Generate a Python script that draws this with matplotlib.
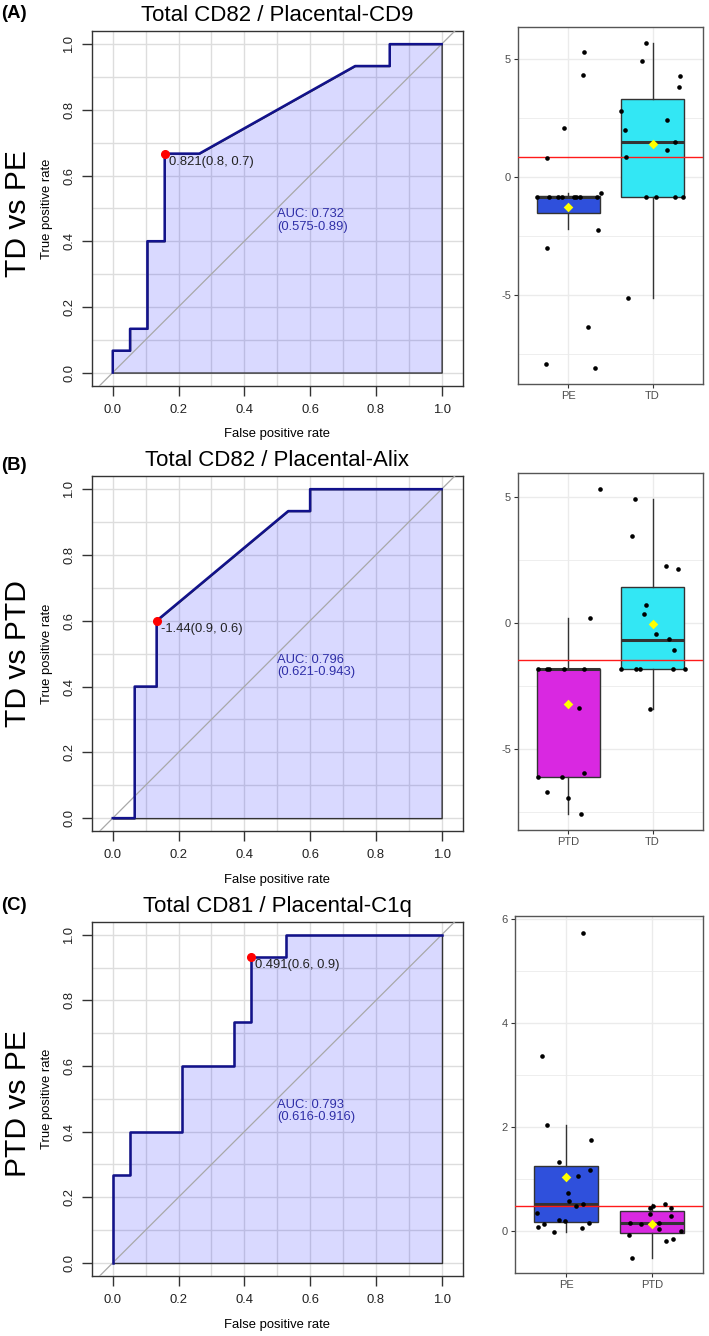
import matplotlib.pyplot as plt
import numpy as np

plt.rcParams['font.family'] = ['Liberation Sans', 'DejaVu Sans']

# ---- ROC data: (false positive rate, true positive rate) ----
roc_a_fpr = [0, 0, 1/19, 1/19, 2/19, 2/19, 3/19, 3/19, 5/19, 14/19, 16/19, 16/19, 1]
roc_a_tpr = [0, 1/15, 1/15, 2/15, 2/15, 6/15, 6/15, 10/15, 10/15, 14/15, 14/15, 1, 1]
roc_b_fpr = [0, 1/15, 1/15, 2/15, 2/15, 8/15, 9/15, 9/15, 1]
roc_b_tpr = [0, 0, 6/15, 6/15, 9/15, 14/15, 14/15, 1, 1]
roc_c_fpr = [0, 0, 1/19, 1/19, 4/19, 4/19, 7/19, 7/19, 8/19, 8/19, 10/19, 10/19, 1]
roc_c_tpr = [0, 4/15, 4/15, 6/15, 6/15, 9/15, 9/15, 11/15, 11/15, 14/15, 14/15, 1, 1]

best_points = [(3/19, 10/15), (2/15, 9/15), (8/19, 14/15)]
best_labels = ['0.821(0.8, 0.7)', '-1.44(0.9, 0.6)', '0.491(0.6, 0.9)']
auc_labels = ['AUC: 0.732\n(0.575-0.89)', 'AUC: 0.796\n(0.621-0.943)', 'AUC: 0.793\n(0.616-0.916)']
roc_titles = ['Total CD82 / Placental-CD9', 'Total CD82 / Placental-Alix', 'Total CD81 / Placental-C1q']
row_labels = ['TD vs PE', 'TD vs PTD', 'PTD vs PE']
panel_tags = ['(A)', '(B)', '(C)']

# ---- box plot data ----
groups_a = ['PE', 'TD']
groups_b = ['PTD', 'TD']
groups_c = ['PE', 'PTD']

a_pe_vals = [-7.92, -8.08, -6.37, -3.02, -2.25, -0.68, -0.83, -0.83, -0.83, -0.83,
             -0.83, -0.83, -0.83, -0.83, 0.79, 2.1, 4.31, 5.3]
a_pe_jit = [-0.27, 0.31, 0.23, -0.26, 0.35, 0.39, -0.37, -0.23, -0.12, -0.08,
            0.06, 0.09, 0.14, 0.34, -0.25, -0.05, 0.17, 0.18]
a_td_vals = [5.68, 4.91, 4.27, 3.83, 2.8, 2.4, 1.99, 1.5, 1.13, 0.86,
             -0.83, -0.83, -0.83, -0.83, -5.13]
a_td_jit = [-0.08, -0.13, 0.33, 0.31, -0.37, 0.17, -0.33, 0.27, 0.17, -0.31,
            -0.08, 0.04, 0.27, 0.36, -0.29]

b_ptd_vals = [-1.84, -1.84, -1.84, -1.84, -1.84, 0.19, 5.35, -3.38, -6.13, -6.1,
              -5.97, -6.69, -6.95, -7.6]
b_ptd_jit = [-0.36, -0.25, -0.23, -0.05, 0.18, 0.26, 0.38, 0.12, -0.36, -0.08,
             0.18, -0.25, 0.0, 0.15]
b_td_vals = [4.93, 3.47, 2.29, 2.15, 0.72, 0.35, -0.42, -0.64, -1.05,
             -1.84, -1.84, -1.84, -1.84, -1.84, -3.43]
b_td_jit = [-0.21, -0.24, 0.16, 0.30, -0.08, -0.10, 0.04, 0.20, 0.25,
            -0.37, -0.20, -0.15, 0.24, 0.39, -0.03]

c_pe_vals = [5.74, 3.37, 2.04, 1.76, 1.33, 1.17, 1.06, 0.73, 0.58, 0.53,
             0.49, 0.34, 0.21, 0.20, 0.16, 0.14, 0.08, 0.07, -0.02]
c_pe_jit = [0.19, -0.28, -0.22, 0.29, -0.09, 0.28, 0.14, 0.02, 0.03, 0.20,
            0.11, -0.34, -0.08, -0.02, 0.27, -0.26, -0.33, 0.18, -0.14]
c_ptd_vals = [0.49, 0.53, 0.44, 0.44, 0.33, 0.29, 0.15, 0.14, 0.15, 0.05,
              0.01, -0.08, -0.15, -0.19, -0.51]
c_ptd_jit = [0.02, 0.16, -0.02, 0.23, -0.02, 0.22, -0.26, -0.12, 0.08, 0.08,
             0.34, -0.27, 0.25, 0.17, -0.23]

# box stats: q1, median, q3, whisker low, whisker high, mean
a_stats = [(-1.54, -0.83, -0.79, -2.22, -0.68, -1.25), (-0.83, 1.5, 3.29, -5.13, 5.68, 1.39)]
b_stats = [(-6.12, -1.84, -1.82, -7.57, 0.19, -3.22), (-1.83, -0.66, 1.45, -3.43, 4.93, -0.05)]
c_stats = [(0.17, 0.52, 1.25, -0.01, 2.04, 1.05), (-0.04, 0.15, 0.38, -0.51, 0.53, 0.13)]
cutoffs = [0.83, -1.47, 0.49]

group_colors = {'PE': '#2F50DC', 'TD': '#33E7F4', 'PTD': '#D928E1'}

W, H = 709, 1336
fig = plt.figure(figsize=(W / 100, H / 100), dpi=100)


def px_axes(left, top, right, bottom):
    return fig.add_axes([left / W, 1 - bottom / H, (right - left) / W, (bottom - top) / H])


def draw_roc(ax, fpr, tpr, best, best_label, auc_label, title):
    ax.set_xlim(-0.064, 1.064)
    ax.set_ylim(-0.04, 1.04)
    ax.set_xticks(np.arange(0, 1.01, 0.2))
    ax.set_yticks(np.arange(0, 1.01, 0.2))
    ax.set_xticks(np.arange(0, 1.01, 0.1), minor=True)
    ax.set_yticks(np.arange(0, 1.01, 0.1), minor=True)
    ax.set_xticklabels(['%.1f' % v for v in np.arange(0, 1.01, 0.2)])
    ax.set_yticklabels(['%.1f' % v for v in np.arange(0, 1.01, 0.2)], rotation=90, va='center')
    ax.tick_params(which='minor', length=0)
    ax.tick_params(which='major', length=7, width=1, color='#333333',
                   labelsize=9.4, labelcolor='#222222')
    ax.tick_params(axis='x', pad=6)
    ax.tick_params(axis='y', pad=5)
    ax.grid(which='both', color='#DDDDDD', linewidth=1)
    ax.set_axisbelow(True)
    for s in ax.spines.values():
        s.set_color('#333333')
        s.set_linewidth(1)
    ax.fill_between(fpr, tpr, 0, facecolor=(0, 0, 1, 0.15), edgecolor='#333333',
                    linewidth=1, zorder=2)
    ax.axline((0, 0), (1, 1), color='#A8A8A8', linewidth=0.9, zorder=3)
    ax.plot(fpr, tpr, color='#12128C', linewidth=1.8, zorder=4)
    ax.plot(best[0], best[1], 'o', color='#FF0000', markersize=5.5, zorder=5)
    ax.annotate(best_label, best, xytext=(3, -1.5), textcoords='offset points',
                ha='left', va='top', fontsize=9.4, color='#222222', zorder=6)
    ax.text(0.5, 0.5, auc_label, ha='left', va='top', fontsize=9.4,
            color='#3030A8', linespacing=1.05, zorder=6)
    ax.set_title(title, fontsize=16, pad=7)
    ax.set_xlabel('False positive rate', fontsize=9.4)
    ax.set_ylabel('True positive rate', fontsize=9.4)
    ax.xaxis.set_label_coords(0.5, -0.12)
    ax.yaxis.set_label_coords(-0.104, 0.5)


def draw_box(ax, groups, stats, vals, jits, cutoff, ylim, yticks, minor):
    bstats = []
    for name, st in zip(groups, stats):
        bstats.append({'label': name, 'q1': st[0], 'med': st[1], 'q3': st[2],
                       'whislo': st[3], 'whishi': st[4], 'mean': st[5], 'fliers': []})
    ax.set_xlim(0.4, 2.6)
    ax.set_ylim(*ylim)
    ax.set_yticks(yticks)
    ax.set_yticks(minor, minor=True)
    ax.tick_params(which='minor', length=0)
    ax.grid(which='major', color='#EBEBEB', linewidth=1)
    ax.grid(which='minor', axis='y', color='#EBEBEB', linewidth=0.6)
    ax.set_axisbelow(True)
    bp = ax.bxp(bstats, positions=[1, 2], widths=0.75, showcaps=False,
                showfliers=False, patch_artist=True,
                boxprops=dict(edgecolor='#333333', linewidth=1),
                whiskerprops=dict(color='#333333', linewidth=1),
                medianprops=dict(color='#333333', linewidth=2.2))
    for patch, name in zip(bp['boxes'], groups):
        patch.set_facecolor(group_colors[name])
    ax.axhline(cutoff, color='#FF1A1A', linewidth=1, zorder=3)
    for i in range(2):
        ax.scatter(np.array(jits[i]) + i + 1, vals[i], s=11, color='black', zorder=4,
                   linewidths=0)
        ax.scatter([i + 1], [stats[i][5]], marker='D', s=24, color='#FFFF00',
                   zorder=5, linewidths=0)
    ax.set_xticks([1, 2])
    ax.set_xticklabels(groups)
    ax.set_yticklabels([str(t) for t in yticks])
    ax.tick_params(which='major', length=3, width=0.8, color='#333333',
                   labelsize=8, labelcolor='#4D4D4D', pad=2)
    for s in ax.spines.values():
        s.set_color('#555555')
        s.set_linewidth(1)


roc_boxes = [(91.7, 31, 462.7, 385.7), (91.7, 476, 462.7, 831.3), (91.7, 921.7, 462.7, 1276)]
box_boxes = [(518, 27, 703, 384), (518, 472.7, 703, 830), (515, 916, 703, 1273.3)]
rocs = [(roc_a_fpr, roc_a_tpr), (roc_b_fpr, roc_b_tpr), (roc_c_fpr, roc_c_tpr)]

for i in range(3):
    ax = px_axes(*roc_boxes[i])
    draw_roc(ax, rocs[i][0], rocs[i][1], best_points[i], best_labels[i],
             auc_labels[i], roc_titles[i])

bx = px_axes(*box_boxes[0])
draw_box(bx, groups_a, a_stats, [a_pe_vals, a_td_vals], [a_pe_jit, a_td_jit],
         cutoffs[0], (-8.77, 6.36), [-5, 0, 5], [-7.5, -2.5, 2.5])
bx = px_axes(*box_boxes[1])
draw_box(bx, groups_b, b_stats, [b_ptd_vals, b_td_vals], [b_ptd_jit, b_td_jit],
         cutoffs[1], (-8.22, 5.98), [-5, 0, 5], [-7.5, -2.5, 2.5])
bx = px_axes(*box_boxes[2])
draw_box(bx, groups_c, c_stats, [c_pe_vals, c_ptd_vals], [c_pe_jit, c_ptd_jit],
         cutoffs[2], (-0.81, 6.06), [0, 2, 4, 6], [1, 3, 5])

# panel tags and row labels
tag_y = [13, 465, 905]
row_y = [214, 654, 1104]
for i in range(3):
    fig.text(1 / W, 1 - tag_y[i] / H, panel_tags[i], fontsize=13.3, fontweight='bold',
             ha='left', va='center')
    fig.text(18 / W, 1 - row_y[i] / H, row_labels[i], fontsize=21.6, rotation=90,
             ha='center', va='center')

fig.savefig('out.png', dpi=100)
